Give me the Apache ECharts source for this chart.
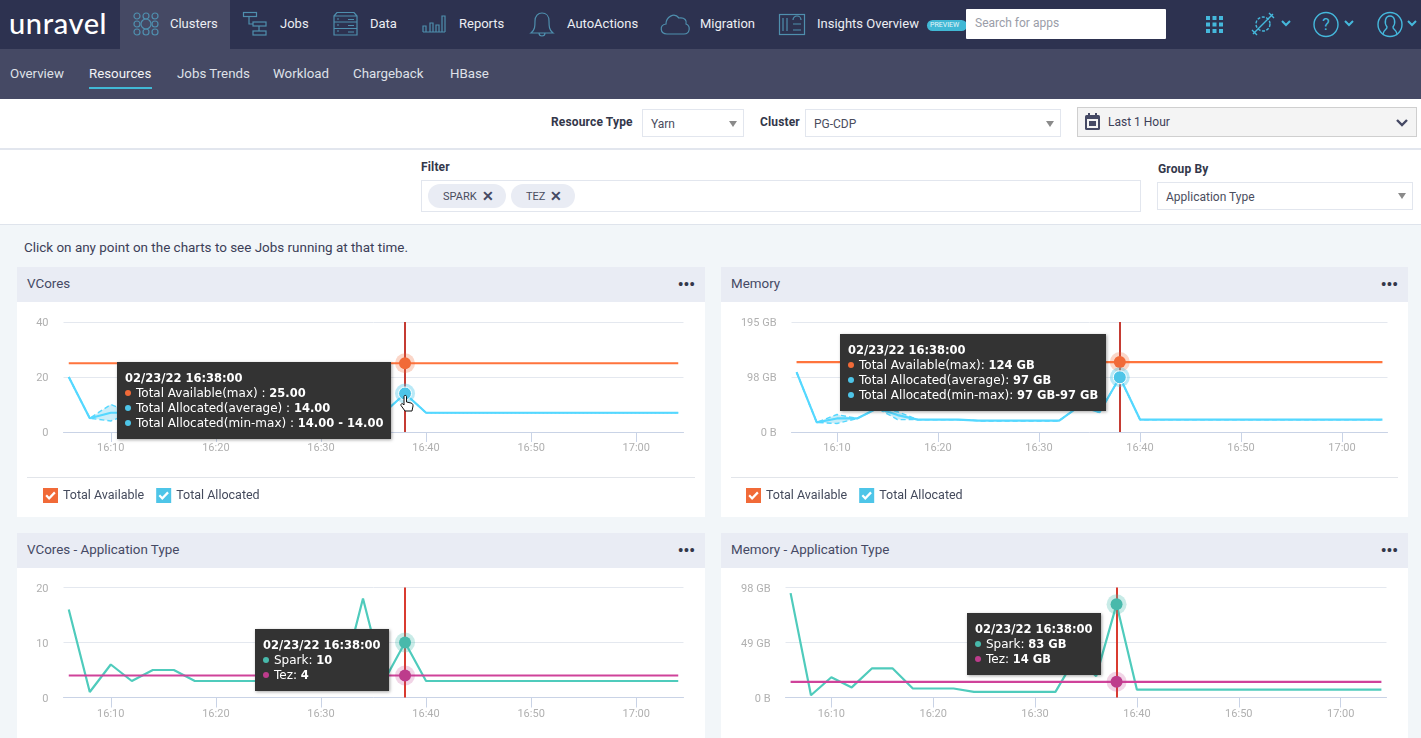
<!DOCTYPE html>
<html>
<head>
<meta charset="utf-8">
<title>Resources</title>
<script src="https://cdn.jsdelivr.net/npm/echarts@6/dist/echarts.min.js"></script>
<style>
html,body{margin:0;padding:0;width:1421px;height:738px;overflow:hidden;background:#f2f6f9;font-family:Roboto,sans-serif;color:#3c4058;}
.abs{position:absolute;white-space:nowrap;}
.nav{left:0;top:0;width:1421px;height:49px;background:#2d3250;}
.sub{left:0;top:49px;width:1421px;height:50px;background:#454964;}
.bar1{left:0;top:99px;width:1421px;height:49px;background:#fff;border-bottom:2px solid #e2e6ee;}
.bar2{left:0;top:150px;width:1421px;height:74px;background:#fff;border-bottom:1px solid #dfe4ec;}
.navtxt{color:#eceef3;font-size:13px;line-height:16px;top:16px;}
.subtxt{color:#dfe1e8;font-size:13.3px;line-height:16px;top:66px;}
.lbl{font-size:12px;font-weight:700;color:#33374a;line-height:14px;letter-spacing:.15px;}
.box{background:#fff;border:1px solid #e2e6ee;box-sizing:border-box;font-size:12px;color:#4a4d5e;line-height:29px;padding-left:8px;}
.arrow{width:0;height:0;border-left:4px solid transparent;border-right:4px solid transparent;border-top:6px solid #8a8a8a;}
.chip{background:#e9ecf4;border-radius:12px;font-size:11px;color:#4a4d5e;line-height:25px;height:24px;box-sizing:border-box;padding-left:15px;}
.chip b{font-size:14px;color:#454964;margin-left:5px;vertical-align:-1px;}
.panel{background:#fff;}
.phead{background:#e9ecf4;height:35px;line-height:34px;font-size:13.4px;color:#454964;padding-left:10px;box-sizing:border-box;position:relative;}
.dots{position:absolute;right:10px;top:1px;font-size:16px;font-weight:700;letter-spacing:0;color:#33374a;}
.chart{position:absolute;}
svg{position:absolute;overflow:visible;}
.ic{fill:none;stroke:#4f8fae;stroke-width:1.2;}
.ic2{fill:none;stroke:#45b8dc;stroke-width:1.4;}
</style>
</head>
<body>
<!-- 顶部导航 -->
<div class="abs nav"></div>
<div class="abs" style="left:120px;top:0;width:110px;height:49px;background:#454964;"></div>
<div class="abs" style="left:9px;top:4px;color:#fff;font-family:Lato,sans-serif;font-size:29px;line-height:38px;letter-spacing:.6px;font-weight:500;">unravel</div>
<svg class="ic" style="left:133px;top:12px" width="26" height="24"><circle cx="4" cy="4" r="3"/><circle cx="13" cy="4" r="3"/><circle cx="22" cy="4" r="3"/><circle cx="4" cy="12" r="3"/><circle cx="13" cy="12" r="5"/><circle cx="22" cy="12" r="3"/><circle cx="4" cy="20" r="3"/><circle cx="13" cy="20" r="3"/><circle cx="22" cy="20" r="3"/></svg>
<div class="abs navtxt" style="left:170px;">Clusters</div>
<svg class="ic" style="left:243px;top:12px" width="26" height="24"><rect x="0.5" y="0.5" width="13" height="4"/><rect x="10" y="10" width="13" height="4"/><rect x="10" y="19" width="13" height="4"/><path d="M6 5V12H10M16 14V19"/></svg>
<div class="abs navtxt" style="left:280px;">Jobs</div>
<svg class="ic" style="left:333px;top:12px" width="26" height="24"><path d="M1 4L4 0.5H21L24 4V23H1ZM1 4H24M1 10H24M1 16.500H24M15 7.500H21M15 13.500H21M15 20H21M4 7H6M4 13H6M4 19H6"/></svg>
<div class="abs navtxt" style="left:370px;">Data</div>
<svg class="ic" style="left:422px;top:15px" width="24" height="20"><path d="M1 17H23M1 17V11H4V17M8 17V8H11V17M14 17V10H17V17M20 17V1H23V17"/></svg>
<div class="abs navtxt" style="left:459px;">Reports</div>
<svg class="ic" style="left:530px;top:12px" width="24" height="26"><path d="M1 21C5 18 5 14 5 9C5 4 8 1 12 1C16 1 19 4 19 9C19 14 19 18 23 21ZM9 21C9 25 15 25 15 21"/></svg>
<div class="abs navtxt" style="left:567px;">AutoActions</div>
<svg class="ic" style="left:660px;top:13px" width="30" height="22"><path d="M7 21C0 21 -1 12 6 11C6 4 14 -1 19 5C25 4 27 8 26 11C31 13 30 21 24 21Z"/></svg>
<div class="abs navtxt" style="left:700px;">Migration</div>
<svg class="ic" style="left:779px;top:14px" width="26" height="22"><rect x="0.500" y="0.500" width="25" height="20"/><path d="M4 4V17M8 4V17M14 10H22M14 16H22M14 6A4 4 0 0 1 22 6"/></svg>
<div class="abs navtxt" style="left:817px;">Insights Overview</div>
<div class="abs" style="left:927px;top:20px;width:40px;height:11px;border-radius:6px;background:#41b8d5;color:#e6f6fa;font-size:7px;line-height:11px;padding-left:3px;box-sizing:border-box;">PREVIEW</div>
<div class="abs" style="left:966px;top:9px;width:200px;height:30px;background:#fff;border-radius:1px;font-size:12px;color:#9a9da8;line-height:28px;padding-left:9px;box-sizing:border-box;">Search for apps</div>
<svg style="left:1206px;top:16px" width="17" height="17" fill="#45b8dc"><rect width="4" height="4"/><rect x="6.500" width="4" height="4"/><rect x="13" width="4" height="4"/><rect y="6.500" width="4" height="4"/><rect x="6.500" y="6.500" width="4" height="4"/><rect x="13" y="6.500" width="4" height="4"/><rect y="13" width="4" height="4"/><rect x="6.500" y="13" width="4" height="4"/><rect x="13" y="13" width="4" height="4"/></svg>
<svg class="ic2" style="left:1251px;top:12px" width="24" height="24"><circle cx="12" cy="12" r="7" stroke-dasharray="3 1.500"/><path d="M2 22L22 2M18 1L23 6M1 18L6 23"/></svg>
<svg class="ic2" style="left:1281px;top:20px" width="10" height="7"><path d="M1 1L5 5L9 1" stroke-width="2"/></svg>
<svg class="ic2" style="left:1314px;top:12px" width="24" height="25"><circle cx="12" cy="12.500" r="12"/></svg>
<div class="abs" style="left:1314px;top:12px;width:24px;text-align:center;color:#45b8dc;font-size:16px;line-height:25px;">?</div>
<svg class="ic2" style="left:1344px;top:20px" width="10" height="7"><path d="M1 1L5 5L9 1" stroke-width="2"/></svg>
<svg class="ic2" style="left:1378px;top:12px" width="24" height="25"><circle cx="12" cy="12.500" r="12"/><path d="M5 22C6 17 9 18 9 15C6 11 7 4 12 4C17 4 18 11 15 15C15 18 18 17 19 22"/></svg>
<svg class="ic2" style="left:1407px;top:20px" width="10" height="7"><path d="M1 1L5 5L9 1" stroke-width="2"/></svg>

<!-- 二级导航 -->
<div class="abs sub"></div>
<div class="abs subtxt" style="left:10px;">Overview</div>
<div class="abs subtxt" style="left:89px;color:#f2f3f6;">Resources</div>
<div class="abs" style="left:89px;top:87px;width:63px;height:2px;background:#41b8d5;"></div>
<div class="abs subtxt" style="left:177px;">Jobs Trends</div>
<div class="abs subtxt" style="left:273px;">Workload</div>
<div class="abs subtxt" style="left:353px;">Chargeback</div>
<div class="abs subtxt" style="left:450px;">HBase</div>

<!-- 筛选条件 -->
<div class="abs bar1"></div>
<div class="abs lbl" style="left:551px;top:115px;">Resource Type</div>
<div class="abs box" style="left:642px;top:109px;width:102px;height:28px;">Yarn</div>
<div class="abs arrow" style="left:729px;top:121px;"></div>
<div class="abs lbl" style="left:760px;top:115px;">Cluster</div>
<div class="abs box" style="left:805px;top:109px;width:256px;height:28px;">PG-CDP</div>
<div class="abs arrow" style="left:1046px;top:121px;"></div>
<div class="abs" style="left:1077px;top:107px;width:340px;height:30px;background:#f4f4f4;border:1px solid #cfcfcf;box-sizing:border-box;font-size:12px;color:#3c4058;line-height:28px;padding-left:30px;">Last 1 Hour</div>
<svg style="left:1085px;top:113px" width="16" height="17"><rect y="2" width="15" height="15" rx="1.500" fill="#454964"/><rect x="2" y="6" width="11" height="9" fill="#f4f4f4"/><rect x="3" y="0" width="2" height="4" fill="#454964"/><rect x="10" y="0" width="2" height="4" fill="#454964"/><rect x="4" y="8" width="7" height="5" fill="#454964"/></svg>
<svg style="left:1396px;top:119px" width="12" height="9"><path d="M1 1L6 6L11 1" fill="none" stroke="#454964" stroke-width="2.400"/></svg>
<div class="abs bar2"></div>
<div class="abs lbl" style="left:421px;top:160px;">Filter</div>
<div class="abs box" style="left:421px;top:180px;width:720px;height:32px;"></div>
<div class="abs chip" style="left:428px;top:184px;width:78px;">SPARK<b>✕</b></div>
<div class="abs chip" style="left:511px;top:184px;width:64px;">TEZ<b>✕</b></div>
<div class="abs lbl" style="left:1158px;top:162px;">Group By</div>
<div class="abs box" style="left:1157px;top:182px;width:256px;height:28px;">Application Type</div>
<div class="abs arrow" style="left:1398px;top:193px;"></div>
<div class="abs" style="left:24px;top:240px;font-size:13.45px;line-height:16px;color:#3c4058;">Click on any point on the charts to see Jobs running at that time.</div>

<!-- 面板 -->
<div class="abs panel" style="left:17px;top:267px;width:688px;height:250px;"><div class="phead">VCores<span class="dots">•••</span></div></div>
<div class="abs panel" style="left:721px;top:267px;width:687px;height:250px;"><div class="phead">Memory<span class="dots">•••</span></div></div>
<div class="abs panel" style="left:17px;top:533px;width:688px;height:205px;"><div class="phead">VCores - Application Type<span class="dots">•••</span></div></div>
<div class="abs panel" style="left:721px;top:533px;width:687px;height:205px;"><div class="phead">Memory - Application Type<span class="dots">•••</span></div></div>
<div class="abs" style="left:27px;top:477px;width:668px;height:1px;background:#e2e5ea;"></div>
<div class="abs" style="left:731px;top:477px;width:667px;height:1px;background:#e2e5ea;"></div>

<div id="chart_vcores" class="chart" style="left:17px;top:302px;width:688px;height:215px;"></div>
<div id="chart_memory" class="chart" style="left:721px;top:302px;width:687px;height:215px;"></div>
<div id="chart_vcores_app" class="chart" style="left:17px;top:568px;width:688px;height:170px;"></div>
<div id="chart_memory_app" class="chart" style="left:721px;top:568px;width:687px;height:170px;"></div>

<!-- 鼠标手势 -->
<svg style="left:400px;top:395px;z-index:99999" width="14" height="18"><path d="M4 1.500C4 0 6.500 0 6.500 1.500V7L11 8C13 8.500 13 10 13 11L12 16H5L1 10.500C0.500 9 2 8 3 9L4 10Z" fill="#fff" stroke="#111" stroke-width="1"/></svg>

<script>
var times = ['16:06','16:08','16:10','16:12','16:14','16:16','16:18','16:20','16:22','16:24','16:26','16:28','16:30','16:32','16:34','16:36','16:38','16:40','16:42','16:44','16:46','16:48','16:50','16:52','16:54','16:56','16:58','17:00','17:02','17:04'];
var xTicks = ['16:10','16:20','16:30','16:40','16:50','17:00'];
var hoverTime = '16:38';

var vcoresAvailable = [25,25,25,25,25,25,25,25,25,25,25,25,25,25,25,25,25,25,25,25,25,25,25,25,25,25,25,25,25,25];
var vcoresAllocated = [20,5,7,7,9,9,7,7,7,7,7,7,7,7,22,7,14,7,7,7,7,7,7,7,7,7,7,7,7,7];
var vcoresAllocMin  = [20,5,4,7,9,9,7,7,7,7,7,7,7,7,22,7,14,7,7,7,7,7,7,7,7,7,7,7,7,7];
var vcoresAllocMax  = [20,5,10,7,9,9,7,7,7,7,7,7,7,7,22,7,14,7,7,7,7,7,7,7,7,7,7,7,7,7];

var memAvailable = [124,124,124,124,124,124,124,124,124,124,124,124,124,124,124,124,124,124,124,124,124,124,124,124,124,124,124,124,124,124];
var memAllocated = [106,17,24,24,42,30,22,22,22,20,20,20,20,20,46,35,97,22,22,22,22,22,22,22,22,22,22,22,22,22];
var memAllocMin  = [106,17,15,24,42,22,22,22,22,20,20,20,20,20,46,35,97,22,22,22,22,22,22,22,22,22,22,22,22,22];
var memAllocMax  = [106,17,31,24,42,36,22,22,22,20,20,20,20,20,46,35,97,22,22,22,22,22,22,22,22,22,22,22,22,22];

var vcoresSpark = [16,1,6,3,5,5,3,3,3,3,3,3,3,3,18,3,10,3,3,3,3,3,3,3,3,3,3,3,3,3];
var vcoresTez   = [4,4,4,4,4,4,4,4,4,4,4,4,4,4,4,4,4,4,4,4,4,4,4,4,4,4,4,4,4,4];
var memSpark = [93,2,18,9,26,26,8,8,8,5,5,5,5,5,36,19,83,7,7,7,7,7,7,7,7,7,7,7,7,7];
var memTez   = [14,14,14,14,14,14,14,14,14,14,14,14,14,14,14,14,14,14,14,14,14,14,14,14,14,14,14,14,14,14];

var ORANGE = '#f16a38', BLUE = '#4ec5e8', TEAL = '#48b9ab', MAGENTA = '#bd3c8c';
var checkIcon = 'path://M0 0H16V16H0ZM2.500 8.500L6.500 12.800L13.500 5.500L11.800 3.800L6.500 9.300L4.200 6.800Z';

function toMin(t){
    var p = t.split(':');
    return p[0]*60 + p[1]*1;
}
function toLabel(m){
    var h = Math.floor(m/60), mm = m%60;
    return h + ':' + (mm<10 ? '0'+mm : mm);
}
function pts(values){
    return values.map(function(v,i){ return [toMin(times[i]), v]; });
}
// 高亮点：外圈半透明 + 内圈实心
function marker(v, color, halo, ringWhite){
    var t = toMin(hoverTime);
    return {
        silent:true,
        animation:false,
        label:{show:false},
        data:[
            {coord:[t,v], symbol:'circle', symbolSize:20, itemStyle:{color:halo}},
            {coord:[t,v], symbol:'circle', symbolSize:ringWhite?13:12, itemStyle:{color:color, borderColor:'#fff', borderWidth:ringWhite?1:0}}
        ]
    };
}
function lineSeries(name, values, color, hoverIdx, halo, ring){
    return {
        name:name, type:'line', data:pts(values), showSymbol:false, symbol:'none', z:3,
        lineStyle:{color:color, width:2.2}, itemStyle:{color:color},
        markPoint:marker(values[hoverIdx], color, halo, ring)
    };
}
// min-max 范围：虚线上下边界 + custom 系列填充
function bandSeries(minV, maxV){
    var dash = {color:BLUE, width:1.4, type:[5,3]};
    return [
        {name:'min', type:'line', data:pts(minV), showSymbol:false, symbol:'none', lineStyle:dash, z:2},
        {name:'max', type:'line', data:pts(maxV), showSymbol:false, symbol:'none', lineStyle:dash, z:2},
        {
            name:'range', type:'custom', data:pts(minV), silent:true, z:1, encode:{x:0, y:1},
            renderItem:function(params, api){
                var i = params.dataIndex;
                if(i >= times.length-1) return null;
                if(maxV[i]===minV[i] && maxV[i+1]===minV[i+1]) return null;
                var a = toMin(times[i]), b = toMin(times[i+1]);
                return {
                    type:'polygon',
                    shape:{points:[api.coord([a,minV[i]]), api.coord([a,maxV[i]]), api.coord([b,maxV[i+1]]), api.coord([b,minV[i+1]])]},
                    style:{fill:BLUE, opacity:.3}
                };
            }
        }
    ];
}

function buildChart(id, cfg){
    var chart = echarts.init(document.getElementById(id));
    var hoverIdx = times.indexOf(hoverTime);
    var series = [];
    if(cfg.band){
        series = bandSeries(cfg.band[0], cfg.band[1]);
    }
    cfg.lines.forEach(function(l){
        series.push(lineSeries(l.name, l.values, l.color, hoverIdx, l.halo, l.ring));
    });
    // 当前时间的竖线
    series[series.length-1].markLine = {
        silent:true, animation:false, symbol:'none', label:{show:false},
        lineStyle:{color:cfg.cursorColor, width:2, type:'solid'},
        data:[{xAxis:toMin(hoverTime)}]
    };
    var option = {
        animation:false,
        textStyle:{fontFamily:'Roboto'},
        grid:{left:cfg.grid[0], top:cfg.grid[1], width:cfg.grid[2], height:110},
        xAxis:{
            type:'value', min:toMin('16:05')+0.5, max:toMin('17:04')+0.5,
            splitLine:{show:false},
            axisLine:{show:true, lineStyle:{color:'#c9d3e6'}},
            axisTick:{show:true, length:10, lineStyle:{color:'#c9d3e6'}, customValues:xTicks.map(toMin)},
            axisLabel:{color:'#b0b0b0', fontSize:11, margin:11, customValues:xTicks.map(toMin), formatter:toLabel}
        },
        yAxis:{
            type:'value', min:0, max:cfg.yMax, interval:cfg.yStep,
            axisLine:{show:false}, axisTick:{show:false},
            splitLine:{lineStyle:{color:'#e4e8ef'}},
            axisLabel:{color:'#b0b0b0', fontSize:11, margin:15, verticalAlign:'top', lineHeight:3, formatter:cfg.yFmt}
        },
        tooltip:{
            trigger:'axis', alwaysShowContent:true, transitionDuration:0,
            axisPointer:{type:'none'},
            backgroundColor:'#333333', borderWidth:0, borderRadius:0, padding:[9,8,8,8],
            extraCssText:'box-shadow:1px 1px 3px rgba(0,0,0,.35);line-height:15px;',
            textStyle:{color:'#fff', fontSize:12, fontFamily:'DejaVu Sans'},
            position:cfg.tipPos,
            formatter:function(){ return cfg.tip(hoverIdx); }
        },
        series:series
    };
    if(cfg.legend){
        option.legend = {
            left:cfg.legend, top:181, selectedMode:false, itemWidth:15, itemHeight:15, itemGap:12,
            textStyle:{color:'#444a5c', fontSize:12.5, fontFamily:'Roboto'},
            data:cfg.lines.map(function(l){ return {name:l.name, icon:checkIcon}; })
        };
    }
    chart.setOption(option);
    chart.dispatchAction({type:'showTip', seriesIndex:series.length-1, dataIndex:hoverIdx});
    return chart;
}

function dot(c){
    return '<span style="display:inline-block;width:6px;height:6px;border-radius:3px;background:'+c+';margin:0 5px 1px 0;"></span>';
}
function val(s){ return '<b style="font-size:11.5px">'+s+'</b>'; }
function gb(v){ return v + ' GB'; }
function fmtGb(v){ return v===0 ? '0 B' : Math.round(v)+' GB'; }
var tipTitle = val('02/23/22 16:38:00')+'<br>';

buildChart('chart_vcores', {
    grid:[46.5,20,620], yMax:40, yStep:20, legend:21, tipPos:[100,60], cursorColor:'#c53b33',
    band:[vcoresAllocMin, vcoresAllocMax],
    lines:[
        {name:'Total Available', values:vcoresAvailable, color:ORANGE, halo:'rgba(241,106,56,.28)'},
        {name:'Total Allocated', values:vcoresAllocated, color:BLUE, halo:'rgba(79,201,236,.4)', ring:true}
    ],
    tip:function(i){
        return tipTitle
            + dot(ORANGE)+'Total Available(max) : '+val(vcoresAvailable[i].toFixed(2))+'<br>'
            + dot(BLUE)+'Total Allocated(average) : '+val(vcoresAllocated[i].toFixed(2))+'<br>'
            + dot(BLUE)+'Total Allocated(min-max) : '+val(vcoresAllocMin[i].toFixed(2)+' - '+vcoresAllocMax[i].toFixed(2));
    }
});
buildChart('chart_memory', {
    grid:[70.5,20,596], yMax:195, yStep:97.5, yFmt:fmtGb, legend:20, tipPos:[119,32], cursorColor:'#c53b33',
    band:[memAllocMin, memAllocMax],
    lines:[
        {name:'Total Available', values:memAvailable, color:ORANGE, halo:'rgba(241,106,56,.28)'},
        {name:'Total Allocated', values:memAllocated, color:BLUE, halo:'rgba(79,201,236,.4)', ring:true}
    ],
    tip:function(i){
        return tipTitle
            + dot(ORANGE)+'Total Available(max): '+val(gb(memAvailable[i]))+'<br>'
            + dot(BLUE)+'Total Allocated(average): '+val(gb(memAllocated[i]))+'<br>'
            + dot(BLUE)+'Total Allocated(min-max): '+val(gb(memAllocMin[i])+'-'+gb(memAllocMax[i]));
    }
});
buildChart('chart_vcores_app', {
    grid:[46.5,19.5,620], yMax:20, yStep:10, tipPos:[238,61], cursorColor:'#d93b30',
    lines:[
        {name:'Spark', values:vcoresSpark, color:TEAL, halo:'rgba(72,188,174,.3)'},
        {name:'Tez', values:vcoresTez, color:MAGENTA, halo:'rgba(192,57,142,.22)'}
    ],
    tip:function(i){
        return tipTitle
            + dot(TEAL)+'Spark: '+val(vcoresSpark[i])+'<br>'
            + dot(MAGENTA)+'Tez: '+val(vcoresTez[i]);
    }
});
buildChart('chart_memory_app', {
    grid:[64.5,19.5,601], yMax:98, yStep:49, yFmt:fmtGb, tipPos:[246,45], cursorColor:'#d93b30',
    lines:[
        {name:'Spark', values:memSpark, color:TEAL, halo:'rgba(72,188,174,.3)'},
        {name:'Tez', values:memTez, color:MAGENTA, halo:'rgba(192,57,142,.22)'}
    ],
    tip:function(i){
        return tipTitle
            + dot(TEAL)+'Spark: '+val(gb(memSpark[i]))+'<br>'
            + dot(MAGENTA)+'Tez: '+val(gb(memTez[i]));
    }
});
</script>
</body>
</html>
